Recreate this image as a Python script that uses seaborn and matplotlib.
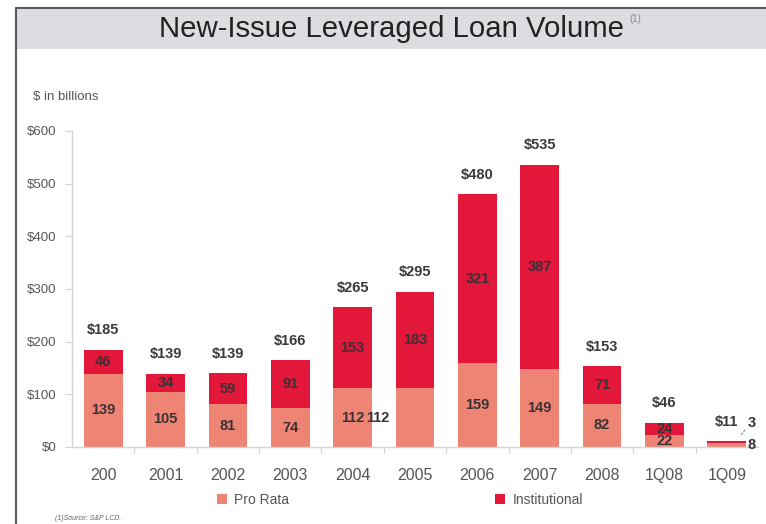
import matplotlib
matplotlib.use("Agg")
import matplotlib.pyplot as plt
from matplotlib.patches import Rectangle, Patch
from matplotlib.lines import Line2D
import seaborn as sns
import pandas as pd
import numpy as np

# Loan volume data ($ billions)
periods = ["200", "2001", "2002", "2003", "2004", "2005", "2006", "2007", "2008", "1Q08", "1Q09"]
pro_rata = [139, 105, 81, 74, 112, 112, 159, 149, 82, 22, 8]
institutional = [46, 34, 59, 91, 153, 183, 321, 387, 71, 24, 3]
total_labels = ["$185", "$139", "$139", "$166", "$265", "$295", "$480", "$535", "$153", "$46", "$11"]
y_ticks = [0, 100, 200, 300, 400, 500, 600]

PRO_COLOR = "#ee8474"
INST_COLOR = "#e3173a"
LABEL_COLOR = "#3a3035"

sns.set_theme(style="white")
plt.rcParams["font.family"] = ["Liberation Sans", "DejaVu Sans"]

W, H = 766, 524
fig = plt.figure(figsize=(W / 100, H / 100), dpi=100)

# Slide frame and title band
fig.add_artist(Rectangle((17 / W, 1 - 49 / H), 1 - 17 / W, 40 / H,
                         transform=fig.transFigure, color="#dcdde0", lw=0, zorder=0))
fig.add_artist(Line2D([16 / W, 16 / W], [0, 1 - 8 / H], transform=fig.transFigure,
                      color="#5a5a5a", lw=1.5))
fig.add_artist(Line2D([16 / W, 1], [1 - 8 / H, 1 - 8 / H], transform=fig.transFigure,
                      color="#5a5a5a", lw=1.5))
fig.text(391 / W, 1 - 29 / H, "New-Issue Leveraged Loan Volume", ha="center", va="center",
         fontsize=21.2, color="#222222")
fig.text(629 / W, 1 - 19 / H, "(1)", ha="left", va="center", fontsize=7, color="#8a8a8a")
fig.text(33 / W, 1 - 97 / H, "$ in billions", ha="left", va="center", fontsize=9.5, color="#555555")
fig.text(55 / W, 1 - 519 / H, "(1)Source: S&P LCD.", ha="left", va="center", fontsize=5,
         style="italic", color="#666666")

ax = fig.add_axes([72 / W, 1 - 447 / H, (758 - 72) / W, (447 - 131) / H])

df = pd.DataFrame({
    "period": periods,
    "pro_rata": pro_rata,
    "institutional": institutional,
})
df["total"] = df["pro_rata"] + df["institutional"]

sns.barplot(data=df, x="period", y="total", color=INST_COLOR, saturation=1, width=0.62,
            linewidth=0, ax=ax)
sns.barplot(data=df, x="period", y="pro_rata", color=PRO_COLOR, saturation=1, width=0.62,
            linewidth=0, ax=ax)

ax.set_xlim(-0.5, len(periods) - 0.5)
ax.set_ylim(0, 600)
ax.set_yticks(y_ticks)
ax.set_yticklabels([f"${v}" for v in y_ticks])
ax.set_xlabel("")
ax.set_ylabel("")

for side in ["top", "right"]:
    ax.spines[side].set_visible(False)
for side in ["left", "bottom"]:
    ax.spines[side].set_color("#d4d4d4")
    ax.spines[side].set_linewidth(1.0)

ax.tick_params(axis="y", which="major", left=True, length=5, width=0.8, color="#d4d4d4",
               labelsize=9.5, labelcolor="#555555", pad=6)
ax.tick_params(axis="x", which="major", bottom=False, labelsize=11.5, labelcolor="#555555", pad=9)
ax.set_xticks(np.arange(len(periods) - 1) + 0.5, minor=True)
ax.tick_params(axis="x", which="minor", bottom=True, length=4, width=0.8, color="#d4d4d4")

# Segment and total labels
for i, (p, q, t) in enumerate(zip(pro_rata, institutional, total_labels)):
    top = p + q
    ax.annotate(t, (i, top), xytext=(0, 14), textcoords="offset points", ha="center",
                va="center", fontsize=10.5, fontweight="bold", color="#3a3a3a")
    if periods[i] == "1Q09":
        ax.annotate(str(q), (i, top), xytext=(18, 13), textcoords="offset points",
                    ha="center", va="center", fontsize=10.5, fontweight="bold", color=LABEL_COLOR)
        ax.annotate(str(p), (i, p / 2), xytext=(18, 0), textcoords="offset points",
                    ha="center", va="center", fontsize=10.5, fontweight="bold", color=LABEL_COLOR)
        ax.annotate("", xy=(i + 0.19, top + 7), xytext=(i + 0.32, top + 25),
                    arrowprops=dict(arrowstyle="-", linestyle=(0, (1.5, 1.5)), color="#999999", lw=0.9))
        continue
    ax.text(i, p + q / 2, str(q), ha="center", va="center", fontsize=10.5,
            fontweight="bold", color=LABEL_COLOR)
    if periods[i] == "2005":
        # the 2005 pro-rata label sits tucked against the 2004 one
        ax.annotate(str(p), (i, p / 2), xytext=(-27, 0), textcoords="offset points",
                    ha="center", va="center", fontsize=10.5, fontweight="bold", color=LABEL_COLOR)
    else:
        ax.text(i, p / 2, str(p), ha="center", va="center", fontsize=10.5,
                fontweight="bold", color=LABEL_COLOR)

handles = [Patch(facecolor=PRO_COLOR, edgecolor="none", label="Pro Rata"),
           Patch(facecolor=INST_COLOR, edgecolor="none", label="Institutional")]
fig.legend(handles=handles, loc="center left", bbox_to_anchor=(217 / W, 1 - 500 / H), ncol=2,
           frameon=False, fontsize=10, labelcolor="#555555", handlelength=0.75,
           handleheight=0.75, handletextpad=0.5, columnspacing=14.8, borderaxespad=0, borderpad=0)

fig.savefig("out.png", dpi=100)
